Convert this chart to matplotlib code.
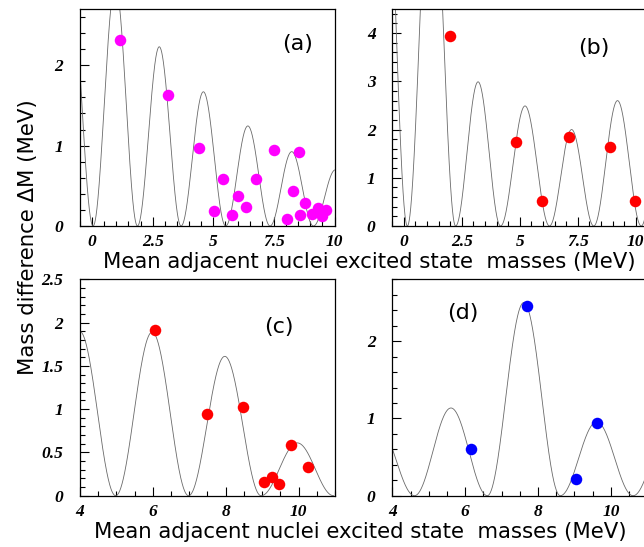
import numpy as np
import matplotlib
matplotlib.use('Agg')
import matplotlib.pyplot as plt
from matplotlib.ticker import MultipleLocator, FuncFormatter

# ---------------- data ----------------
a_x = [1.14, 3.14, 4.42, 5.02, 5.41, 5.77, 6.02, 6.34, 6.75, 7.51, 8.03, 8.29, 8.55, 8.58, 8.78, 9.09, 9.30, 9.48, 9.64]
a_y = [2.31, 1.63, 0.97, 0.19, 0.585, 0.137, 0.374, 0.24, 0.585, 0.94, 0.09, 0.43, 0.92, 0.133, 0.29, 0.153, 0.22, 0.125, 0.195]
a_curve_zeros = [-1.79, 0.04, 1.87, 3.67, 5.51, 7.34, 9.13, 10.95]
a_curve_peaks = [3.0, 3.0, 2.23, 1.67, 1.245, 0.925, 0.70]

b_x = [1.97, 4.84, 5.94, 7.14, 8.90, 9.96]
b_y = [3.95, 1.74, 0.52, 1.85, 1.64, 0.525]
b_curve_zeros = [-1.9, 0.15, 2.23, 4.17, 6.28, 8.19, 10.24, 12.3]
b_curve_peaks = [9.0, 8.0, 2.99, 2.49, 2.0, 2.6, 3.0]

c_x = [6.06, 7.50, 8.47, 9.05, 9.27, 9.45, 9.80, 10.27]
c_y = [1.92, 0.94, 1.02, 0.155, 0.216, 0.13, 0.59, 0.335]
c_curve_zeros = [3.0, 4.98, 6.98, 8.97, 10.96]
c_curve_peaks = [1.9, 1.89, 1.61, 0.61]

d_x = [6.15, 7.69, 9.04, 9.62]
d_y = [0.607, 2.46, 0.215, 0.938]
d_curve_zeros = [2.61, 4.61, 6.61, 8.61, 10.61, 12.61]
d_curve_peaks = [0.91, 1.135, 2.5, 0.955, 0.9]

panel_tags = ['(a)', '(b)', '(c)', '(d)']
xlabel_text = 'Mean adjacent nuclei excited state  masses (MeV)'
ylabel_text = 'Mass difference \u0394M (MeV)'

# tick labels: bold italic serif
plt.rcParams['font.family'] = ['Liberation Serif', 'DejaVu Serif']
plt.rcParams['font.weight'] = 'bold'
plt.rcParams['font.style'] = 'italic'

# ---------------- figure ----------------
W, H = 644, 547
fig = plt.figure(figsize=(W / 100, H / 100), dpi=100)

def px_axes(left, top, width, height):
    return fig.add_axes([left / W, 1 - (top + height) / H, width / W, height / H])

fmt = FuncFormatter(lambda v, p: ('%g' % v))

def lobes(ax, zeros, peaks):
    xs_all, ys_all = [], []
    for i, h in enumerate(peaks):
        z0, z1 = zeros[i], zeros[i + 1]
        xs = np.linspace(z0, z1, 300)
        ys = h * np.sin(np.pi * (xs - z0) / (z1 - z0)) ** 2
        xs_all.append(xs)
        ys_all.append(ys)
    ax.plot(np.concatenate(xs_all), np.concatenate(ys_all), color='#6a6a6a', lw=0.6, zorder=2)

def style(ax, xlim, ylim, xmaj, xmin, ymaj, ymin):
    ax.set_xlim(*xlim)
    ax.set_ylim(*ylim)
    ax.xaxis.set_major_locator(MultipleLocator(xmaj))
    ax.xaxis.set_minor_locator(MultipleLocator(xmin))
    ax.yaxis.set_major_locator(MultipleLocator(ymaj))
    ax.yaxis.set_minor_locator(MultipleLocator(ymin))
    ax.xaxis.set_major_formatter(fmt)
    ax.yaxis.set_major_formatter(fmt)
    ax.tick_params(which='both', direction='in', top=False, right=False, color='black', width=0.8)
    ax.tick_params(which='major', length=6.5, labelsize=12.5)
    ax.tick_params(which='minor', length=3.5)
    ax.tick_params(axis='y', which='major', pad=12)
    ax.tick_params(axis='x', which='major', pad=6)
    for s in ax.spines.values():
        s.set_linewidth(0.9)
        s.set_color('black')

axA = px_axes(80, 9, 254.5, 217)
axB = px_axes(392.3, 9, 255, 217)
axC = px_axes(80, 279.3, 255, 216.4)
axD = px_axes(392.3, 279.3, 255, 216.4)

ms = 8.3
lobes(axA, a_curve_zeros, a_curve_peaks)
axA.plot(a_x, a_y, 'o', color='#ff00ff', ms=ms, mew=0, zorder=3)
style(axA, (-0.5, 10), (0, 2.7), 2.5, 0.5, 1, 0.2)

lobes(axB, b_curve_zeros, b_curve_peaks)
axB.plot(b_x, b_y, 'o', color='#ff0000', ms=ms, mew=0, zorder=3)
style(axB, (-0.5, 10.5), (0, 4.5), 2.5, 0.5, 1, 0.2)

lobes(axC, c_curve_zeros, c_curve_peaks)
axC.plot(c_x, c_y, 'o', color='#ff0000', ms=ms, mew=0, zorder=3)
style(axC, (4, 11), (0, 2.5), 2, 0.5, 0.5, 0.1)

lobes(axD, d_curve_zeros, d_curve_peaks)
axD.plot(d_x, d_y, 'o', color='#0000ff', ms=ms, mew=0, zorder=3)
style(axD, (4, 11), (0, 2.8), 2, 0.5, 1, 0.2)

sans = dict(family='DejaVu Sans', weight='normal', style='normal')

# panel tags
tag_pos = [(298, 44), (594, 48), (279, 327), (463, 313)]
for t, (x, y) in zip(panel_tags, tag_pos):
    fig.text(x / W, 1 - y / H, t, ha='center', va='center', fontsize=16, **sans)

# axis labels, fitted to the reference width
t1 = fig.text(369.5 / W, 1 - 268 / H, xlabel_text, ha='center', va='baseline', fontsize=14, **sans)
t2 = fig.text(360 / W, 1 - 538 / H, xlabel_text, ha='center', va='baseline', fontsize=14, **sans)
r = fig.canvas.get_renderer()
wpx = t1.get_window_extent(r).width
fs = 14 * 536 / wpx
t1.set_fontsize(fs)
t2.set_fontsize(fs)
ty = fig.text(28.5 / W, 1 - 237 / H, ylabel_text, ha='center', va='center', rotation=90, fontsize=fs, **sans)

fig.savefig('out.png', dpi=100)
